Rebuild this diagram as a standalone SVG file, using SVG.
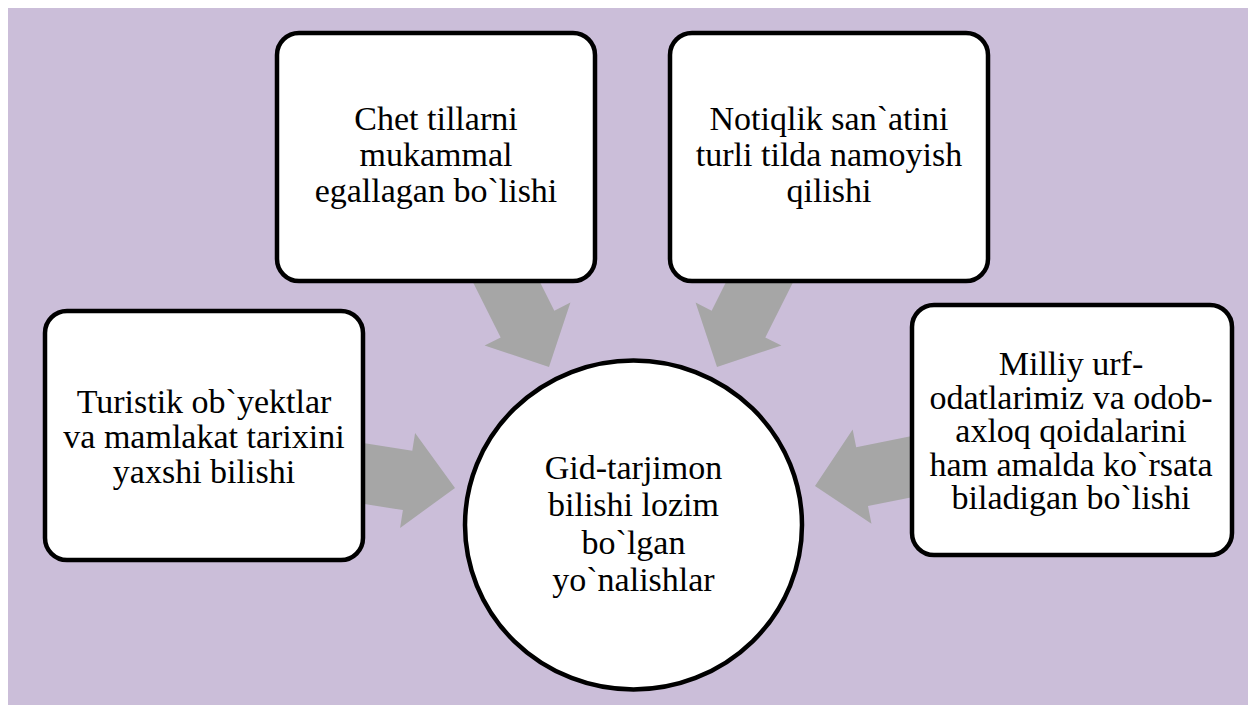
<svg xmlns="http://www.w3.org/2000/svg" width="1248" height="705" viewBox="0 0 1248 705">
<defs>
<style>
.box{fill:#FFFFFF;stroke:#000000;stroke-width:4.5}
.arr{fill:#A6A6A6}
.t{font-size:34px;fill:#000000;text-anchor:middle}
</style>
<polygon id="arrow" points="0,0 -48,48 -48,30 -125,30 -125,-30 -48,-30 -48,-48"/>
</defs>
<rect x="0" y="0" width="1248" height="705" fill="#FFFFFF"/>
<rect x="8" y="8" width="1240" height="697" fill="#CBBED9"/>
<g id="connectors">
<use href="#arrow" class="arr" transform="translate(549,367) rotate(63.4)"/>
<use href="#arrow" class="arr" transform="translate(717,367) rotate(116.6)"/>
<use href="#arrow" class="arr" transform="translate(455,488) rotate(9)"/>
<use href="#arrow" class="arr" transform="translate(815,486) rotate(168.7)"/>
</g>
<g font-family="'Liberation Serif', 'DejaVu Serif', serif">
<g id="node-center">
<ellipse class="box" cx="633.5" cy="525" rx="168.5" ry="164.5"/>
<text class="t" x="633.5" y="479" font-size="36">Gid-tarjimon</text>
<text class="t" x="633.5" y="516" font-size="36">bilishi lozim</text>
<text class="t" x="633.5" y="554" font-size="36">bo`lgan</text>
<text class="t" x="633.5" y="591" font-size="36">yo`nalishlar</text>
</g>
<g id="node-top-left">
<rect class="box" x="277" y="33" width="318" height="248" rx="22"/>
<text class="t" x="436" y="130">Chet tillarni</text>
<text class="t" x="436" y="166">mukammal</text>
<text class="t" x="436" y="202">egallagan bo`lishi</text>
</g>
<g id="node-top-right">
<rect class="box" x="670" y="33" width="318" height="248" rx="22"/>
<text class="t" x="829" y="130">Notiqlik san`atini</text>
<text class="t" x="829" y="166">turli tilda namoyish</text>
<text class="t" x="829" y="202">qilishi</text>
</g>
<g id="node-left">
<rect class="box" x="45" y="311" width="318" height="249" rx="22"/>
<text class="t" x="204" y="413">Turistik ob`yektlar</text>
<text class="t" x="204" y="448">va mamlakat tarixini</text>
<text class="t" x="204" y="483">yaxshi bilishi</text>
</g>
<g id="node-right">
<rect class="box" x="912" y="305" width="320" height="250" rx="22"/>
<text class="t" x="1071" y="375" font-size="33">Milliy urf-</text>
<text class="t" x="1071" y="408.5" font-size="33">odatlarimiz va odob-</text>
<text class="t" x="1071" y="442" font-size="33">axloq qoidalarini</text>
<text class="t" x="1071" y="475.5" font-size="33">ham amalda ko`rsata</text>
<text class="t" x="1071" y="509" font-size="33">biladigan bo`lishi</text>
</g>
</g>
</svg>
